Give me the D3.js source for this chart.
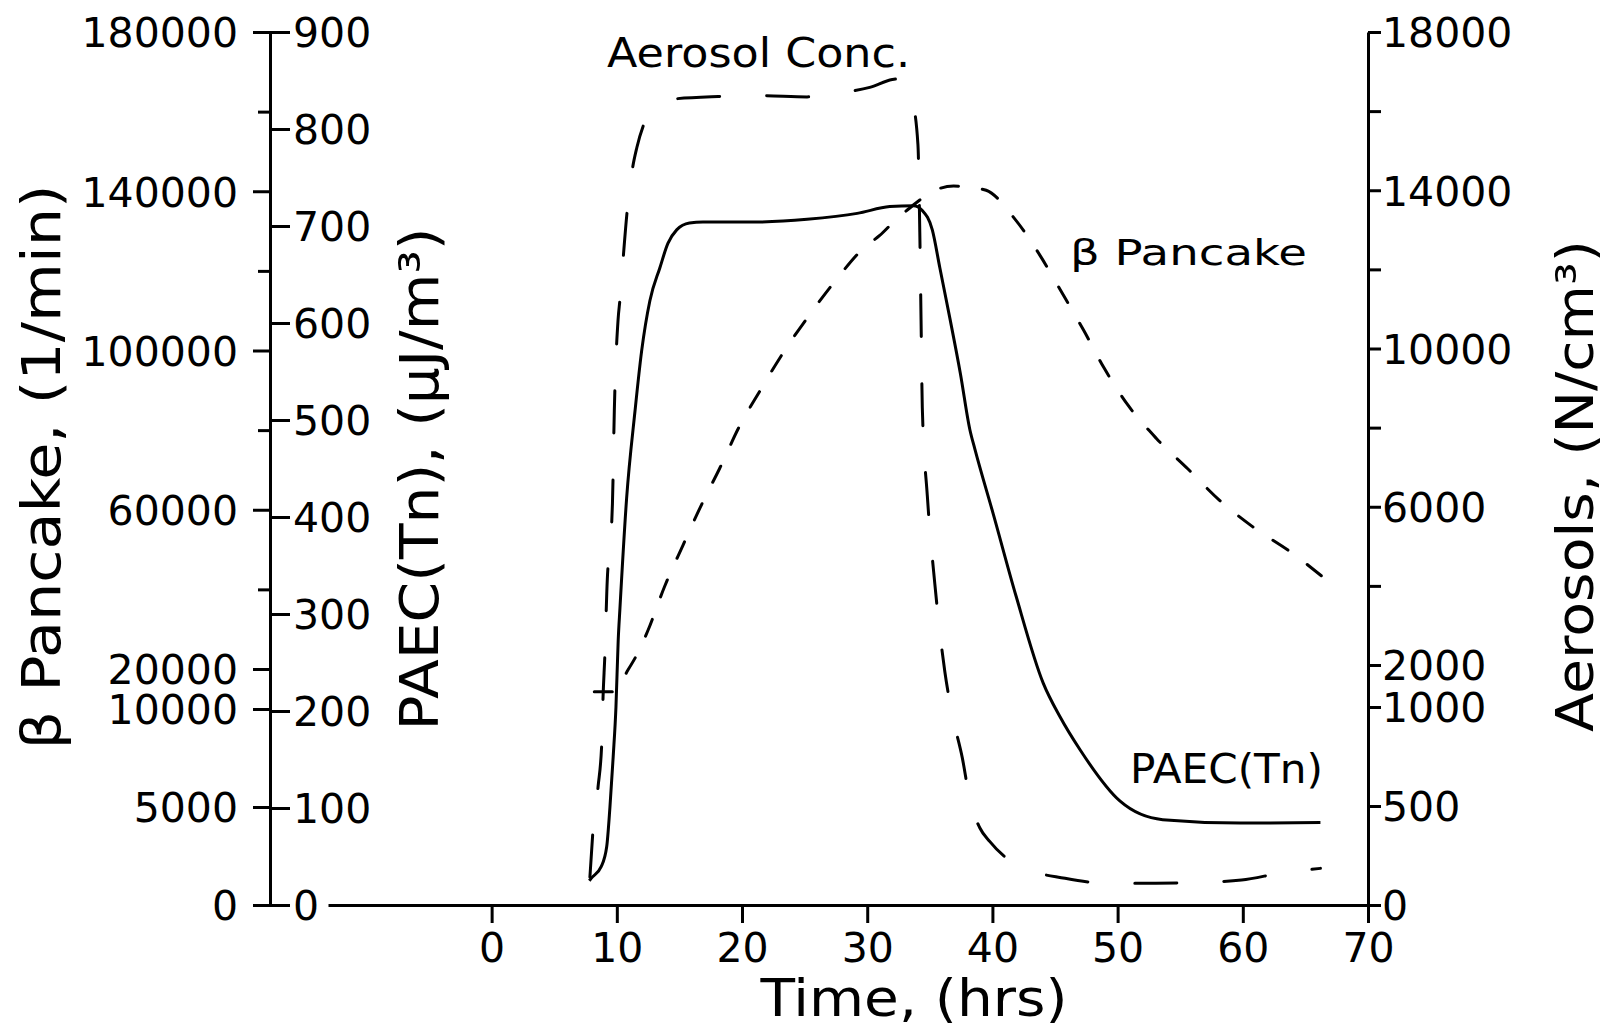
<!DOCTYPE html>
<html>
<head>
<meta charset="utf-8">
<script src="https://cdn.jsdelivr.net/npm/d3@7"></script>
<style>
  html, body { margin: 0; padding: 0; background: #fff; }
  svg { display: block; }
</style>
</head>
<body>
<script>
// ---------------- DATA ----------------
// PAEC(Tn) (µJ/m³) – solid line
const paecTime = [7.8, 7.95, 8.75, 9.19, 9.45, 9.71, 9.93, 10.11, 10.25, 10.78, 11.45, 11.98, 12.64, 13.44, 14.08, 14.78, 15.8, 16.88, 20.6, 25.2, 29.2, 31.8, 33.7, 34.4, 35.2, 35.8, 36.6, 37.44, 38.2, 38.6, 40.07, 41.9, 44.05, 45.4, 47.0, 50.2, 53.6, 59.8, 66.2];
const paecValues = [25, 27.5, 39.5, 60, 101, 153, 204, 273, 306, 419, 509, 571, 623, 657, 682, 696, 703, 704, 704, 707, 713, 720, 721, 716, 696, 657, 605, 548, 490, 470, 403, 318, 229, 194, 160, 107, 88, 84.5, 85];

// β Pancake (1/min) – short dashes
const betaTime = [8.2, 9.7, 10.9, 11.8, 12.5, 13.8, 15.3, 16.8, 18.2, 19.8, 21.4, 23.3, 25.4, 27.6, 29.7, 31.0, 32.4, 33.4, 34.2, 35.0, 36.9, 38.5, 39.5, 41.8, 43.8, 45.5, 47.3, 48.9, 50.8, 53.1, 55.6, 58.1, 60.8, 63.9, 66.4];
const betaValues = [14300, 14300, 19800, 24800, 29800, 40600, 51200, 61500, 70300, 81000, 89700, 99500, 109000, 118100, 125700, 128900, 133200, 135800, 137800, 139600, 141300, 140800, 140250, 133000, 123900, 114800, 105000, 95700, 86400, 77900, 70300, 62500, 55700, 49200, 43100];

// Aerosol concentration (N/cm³) – long dashes
const aerosolTime = [7.85, 8.1, 8.5, 8.8, 8.9, 9.05, 9.2, 9.65, 9.8, 10.1, 10.25, 10.5, 10.8, 11.2, 11.6, 12.1, 13.0, 14.4, 18.1, 21.4, 25.2, 28.5, 30.2, 32.0, 32.6, 33.6, 34.05, 34.2, 34.3, 34.4, 34.8, 35.4, 36.2, 36.8, 37.6, 38.2, 39.0, 39.8, 42.2, 45.8, 49.2, 52.9, 56.0, 59.9, 63.1, 66.2];
const aerosolValues = [141, 379, 596, 823, 1240, 2300, 3850, 6080, 8430, 10730, 11240, 12250, 13390, 14450, 15080, 15620, 16050, 16300, 16370, 16390, 16360, 16490, 16600, 16800, 16820, 16250, 15160, 12940, 10720, 8510, 6280, 4050, 1840, 960, 742, 530, 389, 320, 193, 135, 110, 110, 113, 126, 162, 185];

// Tick values
const timeTicks = [0, 10, 20, 30, 40, 50, 60, 70];
const betaTicks = [0, 5000, 10000, 20000, 60000, 100000, 140000, 180000];
const betaMinorTicks = [40000, 80000, 120000, 160000];
const paecTicks = [0, 100, 200, 300, 400, 500, 600, 700, 800, 900];
const aerosolTicks = [0, 500, 1000, 2000, 6000, 10000, 14000, 18000];
const aerosolMinorTicks = [4000, 8000, 12000, 16000];

// Texts
const betaTitle = "β Pancake,  (1/min)";
const paecTitle = "PAEC(Tn),  (μJ/m³)";
const aerosolTitle = "Aerosols,  (N/cm³)";
const timeTitle = "Time,  (hrs)";

// ---------------- CHART ----------------
const W = 1617, H = 1031;
const FONT = "DejaVu Sans";
const svg = d3.select("body").append("svg").attr("width", W).attr("height", H);

const leftX = 270, rightX = 1368, topY = 32, baseY = 905, xStart = 328;

const x = d3.scaleLinear().domain([-13.07, 70]).range([xStart, rightX]);
const yPaec = d3.scaleLinear().domain([0, 900]).range([baseY, topY]);
const yBeta = d3.scaleLinear().domain([0, 10000, 20000, 180000]).range([baseY, 709, 669, topY]);
const yAer = d3.scaleLinear().domain([0, 1000, 2000, 18000]).range([baseY, 707, 665, topY]);

function styleAxis(g, fs) {
  g.attr("font-family", FONT).attr("font-size", fs);
  g.selectAll("path.domain").attr("stroke", "#000").attr("stroke-width", 3);
  g.selectAll(".tick line").attr("stroke", "#000").attr("stroke-width", 3);
  g.selectAll(".tick text").attr("fill", "#000");
}
const fmt = d => String(d);

// Left beta axis (outer ticks)
svg.append("g").attr("transform", `translate(${leftX},0)`)
  .call(d3.axisLeft(yBeta).tickValues(betaTicks).tickSize(17).tickSizeOuter(0).tickPadding(15).tickFormat(fmt))
  .call(g => styleAxis(g, 41))
  .call(g => g.selectAll(".tick text").attr("dy", "0.36em"));
svg.append("g").attr("transform", `translate(${leftX},0)`)
  .call(d3.axisLeft(yBeta).tickValues(betaMinorTicks).tickSize(12).tickSizeOuter(0).tickFormat(""))
  .call(g => styleAxis(g, 41))
  .call(g => g.select("path.domain").remove());

// PAEC axis (inner ticks on same line)
svg.append("g").attr("transform", `translate(${leftX},0)`)
  .call(d3.axisRight(yPaec).tickValues(paecTicks).tickSize(20).tickSizeOuter(0).tickPadding(3).tickFormat(fmt))
  .call(g => styleAxis(g, 41))
  .call(g => g.selectAll(".tick text").attr("dy", "0.36em"));

// Right aerosol axis
svg.append("g").attr("transform", `translate(${rightX},0)`)
  .call(d3.axisRight(yAer).tickValues(aerosolTicks).tickSize(13).tickSizeOuter(0).tickPadding(1).tickFormat(fmt))
  .call(g => styleAxis(g, 41))
  .call(g => g.selectAll(".tick text").attr("dy", "0.36em"));
svg.append("g").attr("transform", `translate(${rightX},0)`)
  .call(d3.axisRight(yAer).tickValues(aerosolMinorTicks).tickSize(13).tickSizeOuter(0).tickFormat(""))
  .call(g => styleAxis(g, 41))
  .call(g => g.select("path.domain").remove());

// Time axis
svg.append("g").attr("transform", `translate(0,${baseY})`)
  .call(d3.axisBottom(x).tickValues(timeTicks).tickSize(18).tickSizeOuter(0).tickPadding(10).tickFormat(fmt))
  .call(g => styleAxis(g, 41));

// ---------------- LINES ----------------
const paecData = paecTime.map((t, i) => [t, paecValues[i]]);
const betaData = betaTime.map((t, i) => [t, betaValues[i]]);
const aerData = aerosolTime.map((t, i) => [t, aerosolValues[i]]);

const linePaec = d3.line().x(d => x(d[0])).y(d => yPaec(d[1])).curve(d3.curveMonotoneX);
const lineBeta = d3.line().x(d => x(d[0])).y(d => yBeta(d[1])).curve(d3.curveMonotoneX);
const lineAer = d3.line().x(d => x(d[0])).y(d => yAer(d[1])).curve(d3.curveMonotoneX);

svg.append("path").datum(aerData).attr("d", lineAer)
  .attr("fill", "none").attr("stroke", "#000").attr("stroke-width", 3)
  .attr("stroke-linecap", "round").attr("stroke-dasharray", "42,47");

svg.append("path").datum(betaData).attr("d", lineBeta)
  .attr("fill", "none").attr("stroke", "#000").attr("stroke-width", 3)
  .attr("stroke-linecap", "round").attr("stroke-dasharray", "18,24");

svg.append("path").datum(paecData).attr("d", linePaec)
  .attr("fill", "none").attr("stroke", "#000").attr("stroke-width", 3)
  .attr("stroke-linejoin", "round");

// ---------------- TEXT ----------------
function label(txt, opts) {
  const t = svg.append("text")
    .attr("font-family", FONT)
    .attr("font-size", opts.fs)
    .attr("fill", "#000")
    .attr("text-anchor", opts.anchor || "start")
    .attr("transform", opts.transform)
    .text(txt);
  if (opts.len) t.attr("textLength", opts.len).attr("lengthAdjust", "spacingAndGlyphs");
  return t;
}

// Axis titles
label(betaTitle, { fs: 54, anchor: "middle", transform: "translate(60,467) rotate(-90)", len: 565 });
label(paecTitle, { fs: 54, anchor: "middle", transform: "translate(438,479) rotate(-90)", len: 503 });
label(aerosolTitle, { fs: 52, anchor: "middle", transform: "translate(1593,486) rotate(-90)", len: 492 });
label(timeTitle, { fs: 51, anchor: "middle", transform: "translate(914,1016)", len: 307 });

// Curve annotations
label("Aerosol  Conc.", { fs: 41, transform: "translate(607,67)", len: 303 });
label("β  Pancake", { fs: 35, transform: "translate(1070,265)", len: 237 });
label("PAEC(Tn)", { fs: 41, transform: "translate(1130,783)", len: 193 });
</script>
</body>
</html>
